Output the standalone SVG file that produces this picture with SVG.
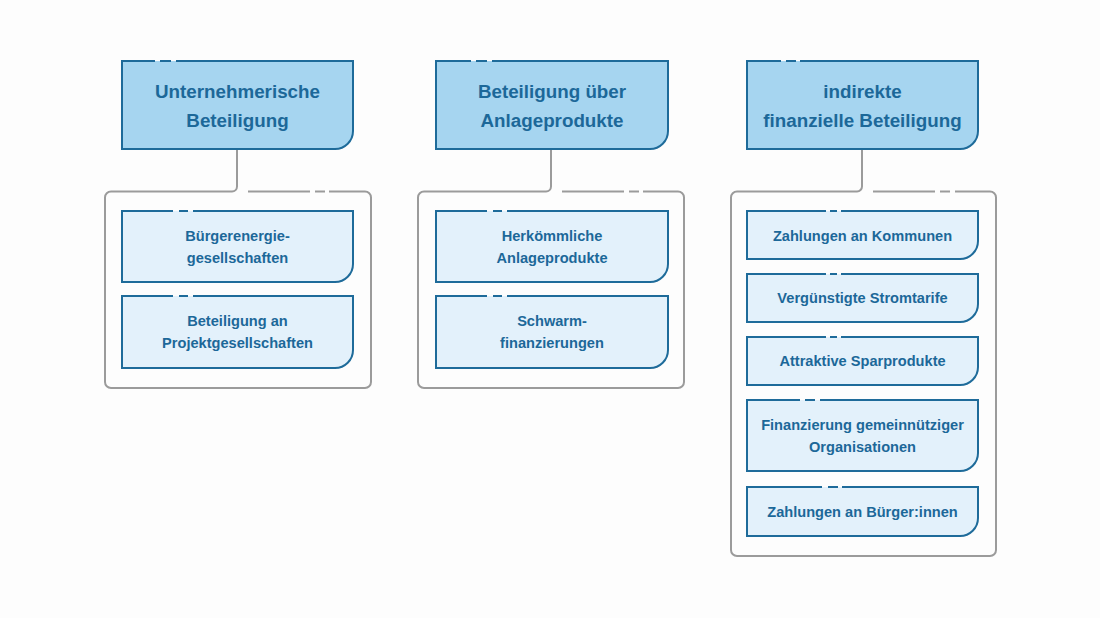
<svg xmlns="http://www.w3.org/2000/svg" width="1100" height="618" viewBox="0 0 1100 618">
<style>
.hd{fill:#a6d5f0;stroke:none}
.ch{fill:#e3f1fb;stroke:none}
.bl{fill:none;stroke:#1e6b9a;stroke-width:2}
.gr{fill:none;stroke:#9b9b9b;stroke-width:2}
.th{font-family:"Liberation Sans",Arial,sans-serif;font-weight:bold;font-size:18.8px;fill:#1c6899;text-anchor:middle}
.tc{font-family:"Liberation Sans",Arial,sans-serif;font-weight:bold;font-size:14.6px;fill:#1c6899;text-anchor:middle}
</style>
<rect width="1100" height="618" fill="#fdfdfd"/>

<g id="connectors">
<path class="gr" d="M237,149 V186.5 A5 5 0 0 1 232,191.5"/>
<path class="gr" d="M551,149 V186.5 A5 5 0 0 1 546,191.5"/>
<path class="gr" d="M862,149 V186.5 A5 5 0 0 1 857,191.5"/>
</g>

<g id="group1">
<path class="gr" d="M248,191.5 H310 M315,191.5 H325 M329,191.5 H365 A6 6 0 0 1 371,197.5 V382 A6 6 0 0 1 365,388 H111 A6 6 0 0 1 105,382 V197.5 A6 6 0 0 1 111,191.5 H232"/>
</g>
<g id="group2">
<path class="gr" d="M562,191.5 H624 M629,191.5 H639 M643,191.5 H678 A6 6 0 0 1 684,197.5 V382 A6 6 0 0 1 678,388 H424 A6 6 0 0 1 418,382 V197.5 A6 6 0 0 1 424,191.5 H546"/>
</g>
<g id="group3">
<path class="gr" d="M873,191.5 H935 M940,191.5 H950 M955,191.5 H990 A6 6 0 0 1 996,197.5 V550 A6 6 0 0 1 990,556 H737 A6 6 0 0 1 731,550 V197.5 A6 6 0 0 1 737,191.5 H857"/>
</g>

<g id="header1">
<path class="hd" d="M122,61 H353 V131 A18 18 0 0 1 335,149 H122 Z"/>
<path class="bl" d="M176,61 H353 V131 A18 18 0 0 1 335,149 H122 V61 H155 M160,61 H171"/>
<text class="th" x="237.5" y="97.5">Unternehmerische</text>
<text class="th" x="237.5" y="126.5">Beteiligung</text>
</g>
<g id="header2">
<path class="hd" d="M436,61 H668 V131 A18 18 0 0 1 650,149 H436 Z"/>
<path class="bl" d="M492,61 H668 V131 A18 18 0 0 1 650,149 H436 V61 H471 M476,61 H487"/>
<text class="th" x="552" y="97.5">Beteiligung über</text>
<text class="th" x="552" y="126.5">Anlageprodukte</text>
</g>
<g id="header3">
<path class="hd" d="M747,61 H978 V131 A18 18 0 0 1 960,149 H747 Z"/>
<path class="bl" d="M800,61 H978 V131 A18 18 0 0 1 960,149 H747 V61 H781 M786,61 H796"/>
<text class="th" x="862.5" y="97.5">indirekte</text>
<text class="th" x="862.5" y="126.5">finanzielle Beteiligung</text>
</g>

<g id="c1a">
<path class="ch" d="M122,211 H353 V264 A18 18 0 0 1 335,282 H122 Z"/>
<path class="bl" d="M193,211 H353 V264 A18 18 0 0 1 335,282 H122 V211 H173 M179,211 H188"/>
<text class="tc" x="237.5" y="241">Bürgerenergie-</text>
<text class="tc" x="237.5" y="263">gesellschaften</text>
</g>
<g id="c1b">
<path class="ch" d="M122,296 H353 V350 A18 18 0 0 1 335,368 H122 Z"/>
<path class="bl" d="M193,296 H353 V350 A18 18 0 0 1 335,368 H122 V296 H173 M179,296 H188"/>
<text class="tc" x="237.5" y="326">Beteiligung an</text>
<text class="tc" x="237.5" y="348">Projektgesellschaften</text>
</g>

<g id="c2a">
<path class="ch" d="M436,211 H668 V264 A18 18 0 0 1 650,282 H436 Z"/>
<path class="bl" d="M507,211 H668 V264 A18 18 0 0 1 650,282 H436 V211 H487 M493,211 H502"/>
<text class="tc" x="552" y="241">Herkömmliche</text>
<text class="tc" x="552" y="263">Anlageprodukte</text>
</g>
<g id="c2b">
<path class="ch" d="M436,296 H668 V350 A18 18 0 0 1 650,368 H436 Z"/>
<path class="bl" d="M507,296 H668 V350 A18 18 0 0 1 650,368 H436 V296 H487 M493,296 H502"/>
<text class="tc" x="552" y="326">Schwarm-</text>
<text class="tc" x="552" y="348">finanzierungen</text>
</g>

<g id="c3a">
<path class="ch" d="M747,211 H978 V241 A18 18 0 0 1 960,259 H747 Z"/>
<path class="bl" d="M841,211 H978 V241 A18 18 0 0 1 960,259 H747 V211 H826 M830,211 H837"/>
<text class="tc" x="862.5" y="241">Zahlungen an Kommunen</text>
</g>
<g id="c3b">
<path class="ch" d="M747,274 H978 V304 A18 18 0 0 1 960,322 H747 Z"/>
<path class="bl" d="M841,274 H978 V304 A18 18 0 0 1 960,322 H747 V274 H826 M830,274 H837"/>
<text class="tc" x="862.5" y="303">Vergünstigte Stromtarife</text>
</g>
<g id="c3c">
<path class="ch" d="M747,337 H978 V367 A18 18 0 0 1 960,385 H747 Z"/>
<path class="bl" d="M841,337 H978 V367 A18 18 0 0 1 960,385 H747 V337 H826 M830,337 H837"/>
<text class="tc" x="862.5" y="366">Attraktive Sparprodukte</text>
</g>
<g id="c3d">
<path class="ch" d="M747,400 H978 V453 A18 18 0 0 1 960,471 H747 Z"/>
<path class="bl" d="M820,400 H978 V453 A18 18 0 0 1 960,471 H747 V400 H800 M805,400 H815"/>
<text class="tc" x="862.5" y="430">Finanzierung gemeinnütziger</text>
<text class="tc" x="862.5" y="452">Organisationen</text>
</g>
<g id="c3e">
<path class="ch" d="M747,487 H978 V518 A18 18 0 0 1 960,536 H747 Z"/>
<path class="bl" d="M842,487 H978 V518 A18 18 0 0 1 960,536 H747 V487 H822 M828,487 H838"/>
<text class="tc" x="862.5" y="517">Zahlungen an Bürger:innen</text>
</g>
</svg>
